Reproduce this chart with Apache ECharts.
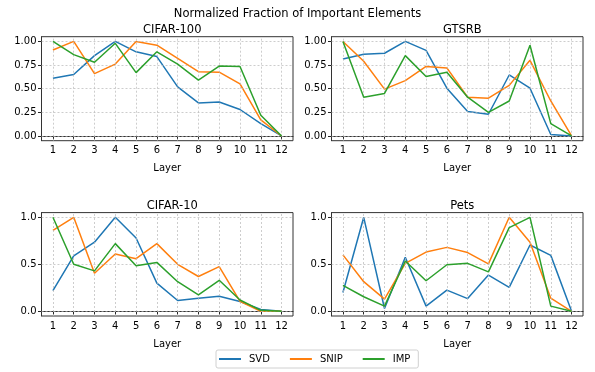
<!DOCTYPE html>
<html>
<head>
<meta charset="utf-8">
<script src="https://cdn.jsdelivr.net/npm/echarts@6/dist/echarts.min.js"></script>
<style>
  html, body { margin: 0; padding: 0; background: #fff; }
  #chart { width: 595px; height: 372px; }
</style>
</head>
<body>
<div id="chart"></div>
<script>
var layers = [1, 2, 3, 4, 5, 6, 7, 8, 9, 10, 11, 12];
var methods = ['SVD', 'SNIP', 'IMP'];
var colors = ['#1f77b4', '#ff7f0e', '#2ca02c'];

var cifar100Svd  = [0.61, 0.65, 0.85, 1.00, 0.89, 0.84, 0.52, 0.35, 0.36, 0.28, 0.13, 0.00];
var cifar100Snip = [0.91, 1.00, 0.66, 0.76, 1.00, 0.96, 0.82, 0.68, 0.675, 0.55, 0.17, 0.00];
var cifar100Imp  = [1.00, 0.86, 0.78, 0.98, 0.67, 0.89, 0.76, 0.59, 0.74, 0.735, 0.22, 0.00];

var gtsrbSvd  = [0.815, 0.865, 0.875, 1.00, 0.905, 0.505, 0.26, 0.23, 0.645, 0.505, 0.015, 0.00];
var gtsrbSnip = [1.00, 0.79, 0.495, 0.585, 0.735, 0.72, 0.41, 0.40, 0.535, 0.80, 0.37, 0.00];
var gtsrbImp  = [1.00, 0.41, 0.45, 0.85, 0.63, 0.675, 0.41, 0.25, 0.37, 0.96, 0.13, 0.00];

var cifar10Svd  = [0.22, 0.59, 0.735, 1.00, 0.78, 0.30, 0.115, 0.14, 0.16, 0.105, 0.02, 0.00];
var cifar10Snip = [0.86, 1.00, 0.405, 0.61, 0.56, 0.72, 0.50, 0.37, 0.475, 0.105, 0.00, 0.00];
var cifar10Imp  = [1.00, 0.50, 0.43, 0.72, 0.485, 0.52, 0.315, 0.175, 0.33, 0.12, 0.01, 0.00];

var petsSvd  = [0.20, 1.00, 0.03, 0.575, 0.055, 0.225, 0.135, 0.385, 0.255, 0.705, 0.595, 0.00];
var petsSnip = [0.60, 0.315, 0.13, 0.51, 0.63, 0.68, 0.625, 0.505, 1.00, 0.735, 0.14, 0.00];
var petsImp  = [0.275, 0.155, 0.055, 0.535, 0.325, 0.495, 0.51, 0.42, 0.89, 1.00, 0.055, 0.00];

var ticksFine = [0, 0.25, 0.5, 0.75, 1];
var ticksCoarse = [0, 0.5, 1];

var panels = [
  { title: 'CIFAR-100', data: [cifar100Svd, cifar100Snip, cifar100Imp], ticks: ticksFine, digits: 2 },
  { title: 'GTSRB',     data: [gtsrbSvd, gtsrbSnip, gtsrbImp],          ticks: ticksFine, digits: 2 },
  { title: 'CIFAR-10',  data: [cifar10Svd, cifar10Snip, cifar10Imp],    ticks: ticksCoarse, digits: 1 },
  { title: 'Pets',      data: [petsSvd, petsSnip, petsImp],             ticks: ticksCoarse, digits: 1 }
];

// panel boxes (px)
var boxes = [
  { left: 41.5,  top: 36.7,  width: 251.5, height: 104 },
  { left: 331.5, top: 36.7,  width: 251.5, height: 104 },
  { left: 41.5,  top: 212.6, width: 251.5, height: 103.4 },
  { left: 331.5, top: 212.6, width: 251.5, height: 103.4 }
];

var font = 'DejaVu Sans';
var tickColor = '#262626';
var gridLine = { color: '#b8b8b8', type: [2, 2], width: 0.7 };

var option = {
  animation: false,
  backgroundColor: '#fff',
  title: [{
    text: 'Normalized Fraction of Important Elements',
    left: 'center', top: 3,
    textStyle: { fontFamily: font, fontSize: 11.5, fontWeight: 'normal', color: '#000' }
  }],
  legend: {
    data: methods,
    left: 216, top: 350,
    itemWidth: 22, itemHeight: 2, itemGap: 20,
    icon: 'rect',
    padding: [4, 8, 4, 3],
    borderColor: '#d0d0d0', borderWidth: 1, borderRadius: 2,
    textStyle: { fontFamily: font, fontSize: 10, color: '#000', padding: [0, 0, 0, 3] }
  },
  grid: [], xAxis: [], yAxis: [], series: []
};

panels.forEach(function (p, i) {
  var b = boxes[i];
  option.title.push({
    text: p.title,
    left: b.left + b.width / 2, top: b.top - 18, textAlign: 'center',
    textStyle: { fontFamily: font, fontSize: 11.5, fontWeight: 'normal', color: '#000' }
  });
  option.grid.push({
    left: b.left, top: b.top, width: b.width, height: b.height,
    show: true, borderColor: '#333', borderWidth: 1
  });
  option.xAxis.push({
    type: 'value', gridIndex: i, min: 0.45, max: 12.55,
    name: 'Layer', nameLocation: 'middle', nameGap: 23,
    nameTextStyle: { fontFamily: font, fontSize: 10, color: '#000' },
    axisLine: { show: true, lineStyle: { color: '#333' } },
    axisTick: { show: true, length: 3.5, customValues: layers, lineStyle: { color: tickColor } },
    axisLabel: { customValues: layers, fontFamily: font, fontSize: 10, color: '#000', margin: 5 },
    splitLine: { show: false }
  });
  option.yAxis.push({
    type: 'value', gridIndex: i, min: -0.05, max: 1.05,
    axisLine: { show: true, lineStyle: { color: '#333' } },
    axisTick: { show: true, length: 3.5, customValues: p.ticks, lineStyle: { color: tickColor } },
    axisLabel: {
      customValues: p.ticks, fontFamily: font, fontSize: 10, color: '#000', margin: 5,
      formatter: (function (d) { return function (v) { return v.toFixed(d); }; })(p.digits)
    },
    splitLine: { show: false }
  });
  // dotted grid lines at the tick positions
  var gridMarks = layers.map(function (l) { return { xAxis: l }; })
    .concat(p.ticks.map(function (t) { return { yAxis: t }; }));
  option.series.push({
    type: 'line', xAxisIndex: i, yAxisIndex: i, data: [],
    silent: true, z: 1,
    markLine: {
      silent: true, symbol: 'none', animation: false,
      label: { show: false },
      lineStyle: gridLine,
      emphasis: { disabled: true },
      data: gridMarks
    }
  });
  p.data.forEach(function (vals, k) {
    option.series.push({
      name: methods[k], type: 'line',
      xAxisIndex: i, yAxisIndex: i,
      data: layers.map(function (l, j) { return [l, vals[j]]; }),
      showSymbol: false, symbol: 'none',
      lineStyle: { color: colors[k], width: 1.5 },
      itemStyle: { color: colors[k] },
      z: 3 + k
    });
  });
});

var myChart = echarts.init(document.getElementById('chart'));
myChart.setOption(option);
window.addEventListener('resize', function () {
  myChart.resize();
});
</script>
</body>
</html>
